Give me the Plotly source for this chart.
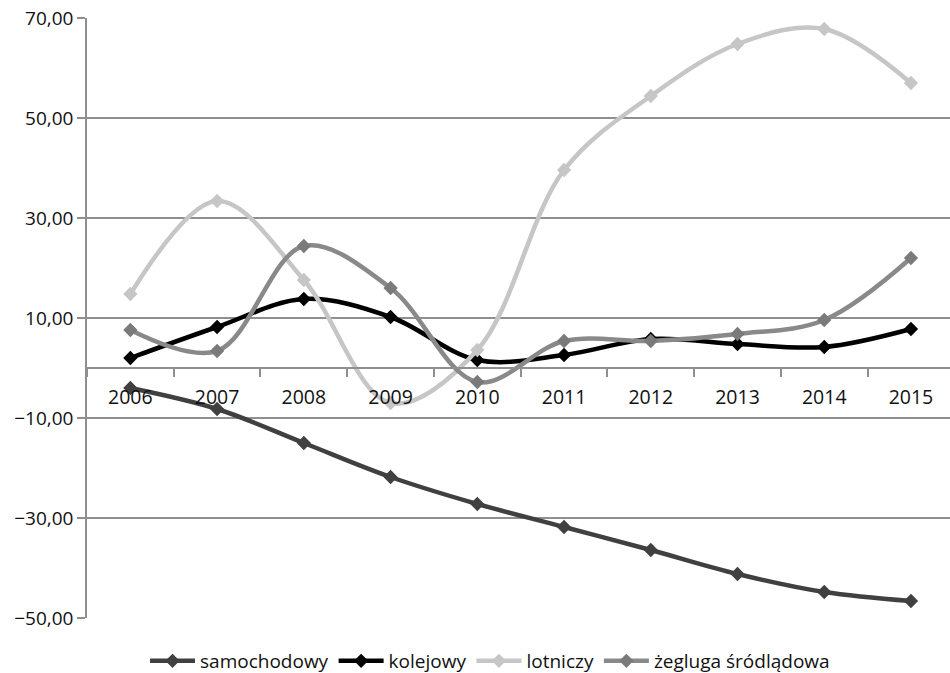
import plotly.graph_objects as go

years = ["2006", "2007", "2008", "2009", "2010", "2011", "2012", "2013", "2014", "2015"]

samochodowy = [-4.0, -8.2, -15.0, -21.8, -27.2, -31.8, -36.4, -41.2, -44.8, -46.6]
kolejowy = [2.0, 8.2, 13.8, 10.2, 1.6, 2.6, 5.8, 4.8, 4.2, 7.8]
lotniczy = [14.8, 33.4, 17.6, -7.0, 3.6, 39.6, 54.4, 64.8, 67.8, 57.0]
zegluga = [7.6, 3.4, 24.4, 16.0, -2.8, 5.4, 5.4, 6.8, 9.6, 22.0]

series = [
    ("samochodowy", samochodowy, "#404040", "#404040"),
    ("kolejowy", kolejowy, "#000000", "#000000"),
    ("lotniczy", lotniczy, "#c6c6c6", "#c6c6c6"),
    ("żegluga śródlądowa", zegluga, "#898989", "#7a7a7a"),
]

y_min, y_max = -50, 70
font_family = "Open Sans, Liberation Sans, sans-serif"

fig = go.Figure()
for name, vals, line_col, mark_col in series:
    fig.add_trace(go.Scatter(
        x=years, y=vals, name=name, mode="lines+markers",
        line=dict(color=line_col, width=4.5, shape="spline", smoothing=1.0),
        marker=dict(symbol="diamond", size=11, color=mark_col),
    ))

fig.update_layout(
    width=950, height=673,
    margin=dict(l=87, r=0, t=18, b=55, autoexpand=False),
    paper_bgcolor="white", plot_bgcolor="white",
    font=dict(family=font_family, size=19, color="#111111"),
    separators=", ",
    showlegend=True,
    legend=dict(orientation="h", x=0.467, xanchor="center",
                yref="container", y=1 - 661 / 673, yanchor="middle",
                font=dict(size=19), itemwidth=45, traceorder="normal"),
    xaxis=dict(
        type="category", range=[-0.5, 9.45],
        anchor="free", position=(0 - y_min) / (y_max - y_min),
        showline=True, linecolor="#8f8f8f", linewidth=1.5,
        ticks="outside", tickson="boundaries", ticklen=8, tickcolor="#8f8f8f", tickwidth=1.5,
        ticklabelstandoff=12,
        showgrid=False, tickfont=dict(size=19.5, color="#111111"),
    ),
    yaxis=dict(
        range=[y_min, y_max], tickvals=[-50, -30, -10, 10, 30, 50, 70],
        tickformat=".2f", showgrid=True, gridcolor="#8f8f8f", gridwidth=1.5,
        zeroline=False, showline=True, linecolor="#8f8f8f", linewidth=1.5,
        ticks="outside", ticklen=8, tickcolor="#8f8f8f", tickwidth=1.5,
        tickfont=dict(size=19, color="#111111"),
    ),
)

fig.write_html("out.html")
